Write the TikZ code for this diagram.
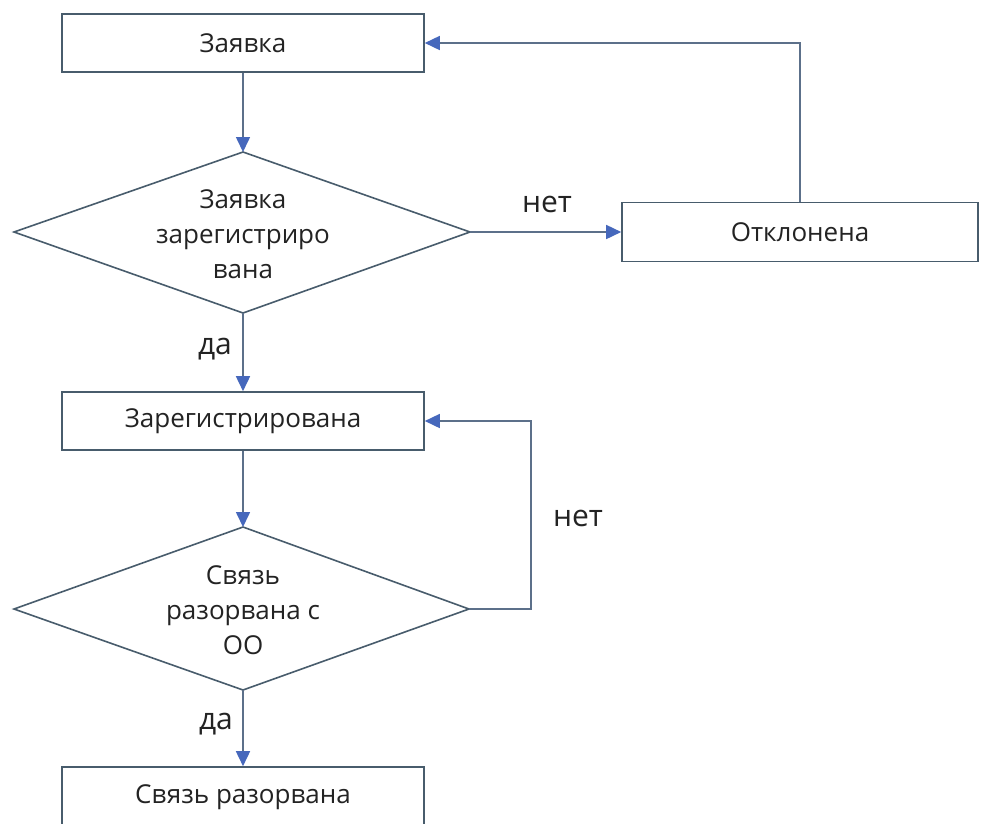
\documentclass[tikz,border=0pt]{standalone}
\usepackage{fontspec}
\setmainfont{Open Sans}
\usetikzlibrary{arrows.meta}
\definecolor{boxline}{RGB}{72,92,108}
\definecolor{connline}{RGB}{92,112,138}
\definecolor{arrowblue}{RGB}{70,104,188}
\definecolor{txt}{RGB}{35,35,35}
\tikzset{
  stepbox/.style={draw=boxline, line width=1.6pt, fill=white, minimum width=362pt, minimum height=58pt, inner sep=0pt, text=txt, font=\fontsize{26}{35}\selectfont},
  decision/.style={draw=boxline, line width=1.6pt, fill=white, line join=miter},
  dtext/.style={align=center, inner sep=0pt, text=txt, font=\fontsize{26}{35}\selectfont},
  conn/.style={draw=connline, line width=1.6pt, -{Triangle[length=15pt,width=14pt,fill=arrowblue,color=arrowblue]}},
  lbl/.style={text=txt, inner sep=0pt, font=\fontsize{30}{34}\selectfont}
}
\begin{document}
\begin{tikzpicture}[x=1pt,y=-1pt]
\fill[white] (0,0) rectangle (982,823);
\useasboundingbox (0,0) rectangle (982,823);
% boxes
\node[stepbox] (a) at (243,43) {Заявка};
\node[stepbox, minimum width=356pt, minimum height=59pt] (r) at (800,232) {Отклонена};
\node[stepbox] (b) at (243,421) {Зарегистрирована};
\node[stepbox, minimum height=60pt] (c) at (243,797) {Связь разорвана};
% decision 1
\coordinate (d1n) at (243,152);
\coordinate (d1e) at (470,232);
\coordinate (d1s) at (243,313);
\coordinate (d1w) at (14,232);
\draw[decision] (d1n) -- (d1e) -- (d1s) -- (d1w) -- cycle;
\node[dtext] (d1) at (243,234) {Заявка\\зарегистриро\\вана};
% decision 2
\coordinate (d2n) at (243,527);
\coordinate (d2e) at (469,609);
\coordinate (d2s) at (243,690);
\coordinate (d2w) at (14,609);
\draw[decision] (d2n) -- (d2e) -- (d2s) -- (d2w) -- cycle;
\node[dtext] (d2) at (243,610) {Связь\\разорвана с\\ОО};
% connectors
\coordinate (loop) at (531,515);
\draw[conn] (a.south) -- (d1n);
\draw[conn] (d1e) -- (r.west);
\draw[conn] (r.north) |- (a.east);
\draw[conn] (d1s) -- (b.north);
\draw[conn] (b.south) -- (d2n);
\draw[conn] (d2e) -| (loop) |- (b.east);
\draw[conn] (d2s) -- (c.north);
% labels
\node[lbl] (n1) at (547,204) {нет};
\node[lbl] (n2) at (578,518) {нет};
\node[lbl] (y1) at (215,349) {да};
\node[lbl] (y2) at (216,724) {да};
\end{tikzpicture}
\end{document}
